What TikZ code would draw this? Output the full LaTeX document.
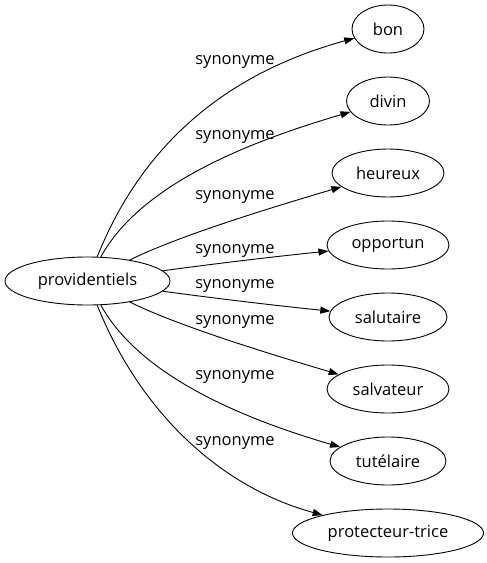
\documentclass[tikz,border=0pt]{standalone}
\usepackage{fontspec}
\setmainfont{Open Sans}
\usetikzlibrary{shapes.geometric,arrows.meta}
\begin{document}
\begin{tikzpicture}[x=1pt,y=-1pt,
  every node/.style={font=\fontsize{16.5}{18}\selectfont},
  word/.style={draw,ellipse,line width=0.9pt,inner sep=0pt,minimum height=48pt},
  syn/.style={line width=0.9pt,-{Triangle[length=10pt,width=7pt]}},
  lab/.style={inner sep=0pt}]
\useasboundingbox (0,0) rectangle (487,563);
\node[word,minimum width=165pt] (src) at (87.5,281) {providentiels};
\node[word,minimum width=72pt]  (bon) at (388,29) {bon};
\node[word,minimum width=83pt]  (divin) at (388,101) {divin};
\node[word,minimum width=112pt] (heureux) at (388,173) {heureux};
\node[word,minimum width=122pt] (opportun) at (388,245) {opportun};
\node[word,minimum width=118pt] (salutaire) at (388,317) {salutaire};
\node[word,minimum width=122pt] (salvateur) at (388,389) {salvateur};
\node[word,minimum width=116pt] (tutelaire) at (388,461) {tutélaire};
\node[word,minimum width=191pt] (protecteur) at (388,533) {protecteur-trice};
\draw[syn] (src) .. controls (140,150) and (220,75) .. (bon);
\draw[syn] (src) .. controls (135,195) and (220,150) .. (divin);
\draw[syn] (src) .. controls (180,235) and (280,205) .. (heureux);
\draw[syn] (src) .. controls (220,263) and (280,256) .. (opportun);
\draw[syn] (src) .. controls (220,299) and (280,306) .. (salutaire);
\draw[syn] (src) .. controls (180,327) and (280,357) .. (salvateur);
\draw[syn] (src) .. controls (135,367) and (220,412) .. (tutelaire);
\draw[syn] (src) .. controls (140,412) and (220,487) .. (protecteur);
\node[lab] (l1) at (235,62) {synonyme};
\node[lab] (l2) at (235,137) {synonyme};
\node[lab] (l3) at (235,197) {synonyme};
\node[lab] (l4) at (235,251) {synonyme};
\node[lab] (l5) at (235,286) {synonyme};
\node[lab] (l6) at (235,322) {synonyme};
\node[lab] (l7) at (235,377) {synonyme};
\node[lab] (l8) at (235,443) {synonyme};
\end{tikzpicture}
\end{document}
